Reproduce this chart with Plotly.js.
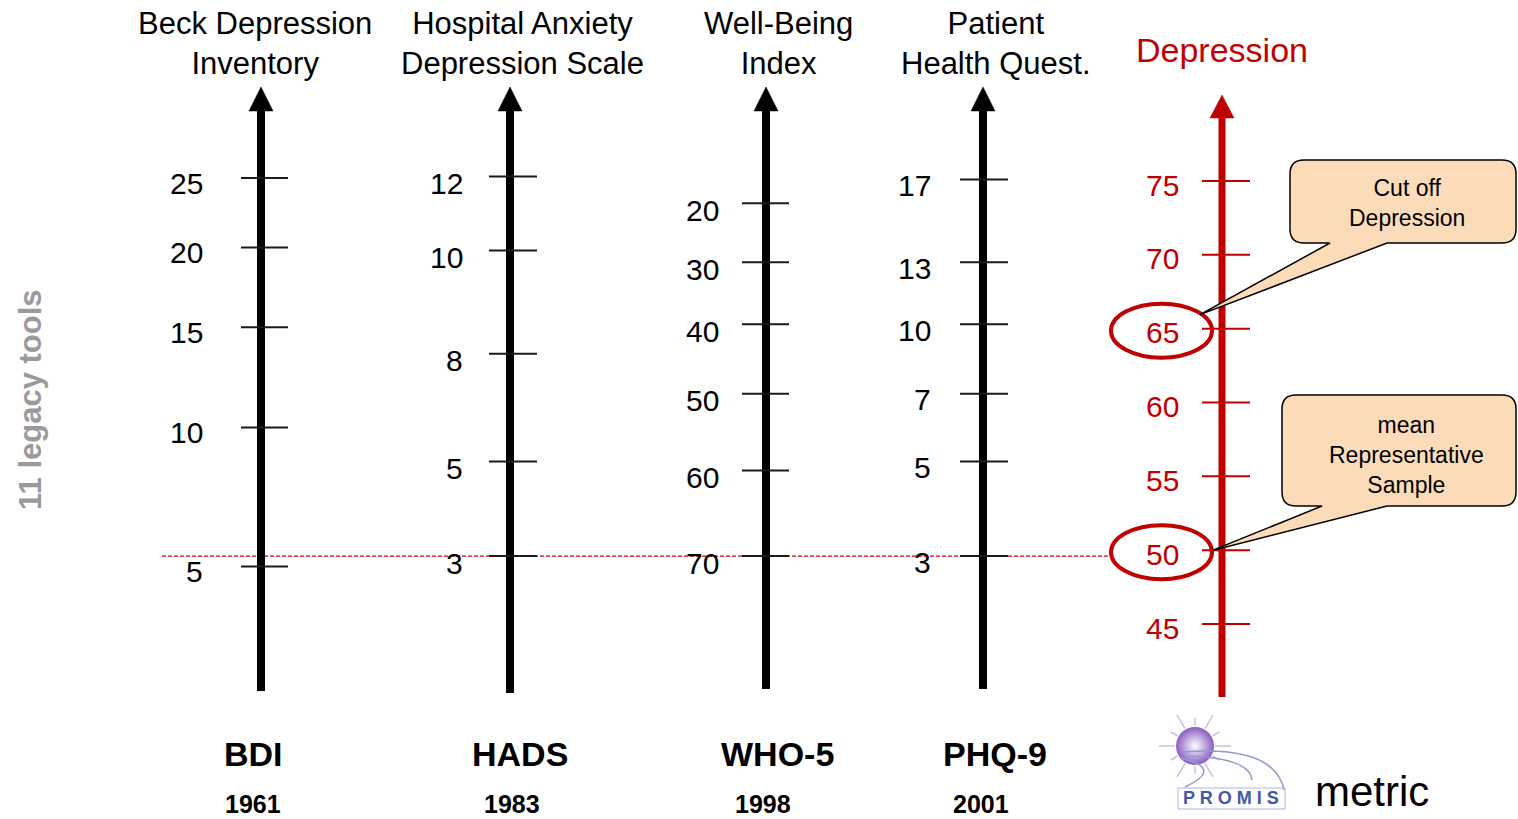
<!DOCTYPE html>
<html>
<head>
<meta charset="utf-8">
<script src="https://cdn.plot.ly/plotly-3.0.1.min.js"></script>
<style>html,body{margin:0;padding:0;background:#fff;}#chart{width:1518px;height:819px;}</style>
</head>
<body>
<div id="chart"></div>
<script>
// ---------------- DATA ----------------
// Legacy instruments, with their scores linked to the PROMIS Depression T-score metric
const instruments = ['BDI', 'HADS', 'WHO-5', 'PHQ-9'];
const years = ['1961', '1983', '1998', '2001'];
const titles = ['Beck Depression<br>Inventory', 'Hospital Anxiety<br>Depression Scale', 'Well-Being<br>Index', 'Patient<br>Health Quest.'];

const bdiLabels = ['25', '20', '15', '10', '5'];
const bdiT = [75.2, 70.5, 65.1, 58.3, 48.9];
const hadsLabels = ['12', '10', '8', '5', '3'];
const hadsT = [75.3, 70.3, 63.3, 56.0, 49.6];
const whoLabels = ['20', '30', '40', '50', '60', '70'];
const whoT = [73.5, 69.5, 65.3, 60.6, 55.4, 49.6];
const phqLabels = ['17', '13', '10', '7', '5', '3'];
const phqT = [75.1, 69.5, 65.3, 60.6, 56.0, 49.6];

const promisTicks = [75, 70, 65, 60, 55, 50, 45];
const promisTitle = 'Depression';
const cutoffT = 65;      // cut off depression
const meanT = 50;        // mean representative sample
const linkT = 49.6;      // dashed linking line
const cutoffText = 'Cut off<br>Depression';
const meanText = 'mean<br>Representative<br>Sample';
const sideLabel = '11 legacy tools';

const legacyLabels = [bdiLabels, hadsLabels, whoLabels, phqLabels];
const legacyT = [bdiT, hadsT, whoT, phqT];

// ---------------- LAYOUT CONSTANTS (pixels) ----------------
const W = 1518, H = 819;
const PX = (624 - 181) / 30;            // pixels per T-score unit
const TY = p => 75 - (p - 181) / PX;     // pixel row -> T-score axis units
const PY = t => 181 + (75 - t) * PX;     // T-score -> pixel row

const colX = [261, 510, 766, 983];
const colBottom = [691, 693, 689, 689];
const tickL = [241, 489, 742, 960];
const tickR = [288, 537, 789, 1008];
const labelRight = [205, 465, 721, 933];
const labelShift = [-5, -7, -7, -6];
const titleX = [255, 522, 778, 996];
const nameX = [253, 520, 777, 995];
const yearX = [253, 512, 763, 981];
const redX = 1222, RED = '#c00000';
const FONT = 'Liberation Sans, Arial, Helvetica, sans-serif';

const traces = [];
const annotations = [];
const shapes = [];

// dashed linking line
traces.push({x: [162, 1110], y: [linkT, linkT], mode: 'lines', line: {color: '#d80000', width: 1.2, dash: '4px,2px'}});

function addAxis(cx, bottom, base, tip, color, width) {
  traces.push({x: [cx, cx], y: [TY(bottom), TY(base)], mode: 'lines', line: {color: color, width: width}});
  traces.push({x: [cx - 12, cx, cx + 12, cx - 12], y: [TY(base), TY(tip), TY(base), TY(base)],
    mode: 'lines', fill: 'toself', fillcolor: color, line: {color: color, width: 0.5}});
}

instruments.forEach((name, i) => {
  addAxis(colX[i], colBottom[i], 111, 87, '#000', 8);
  const xs = [], ys = [];
  legacyT[i].forEach(t => { xs.push(tickL[i], tickR[i], null); ys.push(t, t, null); });
  traces.push({x: xs, y: ys, mode: 'lines', line: {color: '#1a1a1a', width: 2}});
  legacyLabels[i].forEach((lab, k) => {
    annotations.push({x: labelRight[i], y: legacyT[i][k], xref: 'x', yref: 'y', text: lab, showarrow: false,
      xanchor: 'right', yanchor: 'middle', yshift: labelShift[i], font: {family: FONT, size: 30, color: '#000'}});
  });
  annotations.push({x: titleX[i], y: TY(43), xref: 'x', yref: 'y', text: titles[i], showarrow: false,
    xanchor: 'center', yanchor: 'middle', font: {family: FONT, size: 31, color: '#000'}});
  annotations.push({x: nameX[i], y: TY(754), xref: 'x', yref: 'y', text: '<b>' + name + '</b>', showarrow: false,
    xanchor: 'center', yanchor: 'middle', font: {family: FONT, size: 34, color: '#000'}});
  annotations.push({x: yearX[i], y: TY(804), xref: 'x', yref: 'y', text: '<b>' + years[i] + '</b>', showarrow: false,
    xanchor: 'center', yanchor: 'middle', font: {family: FONT, size: 25, color: '#000'}});
});

// PROMIS red axis
addAxis(redX, 697, 118, 95, RED, 7);
{
  const xs = [], ys = [];
  promisTicks.forEach(t => { xs.push(1202, 1250, null); ys.push(t, t, null); });
  traces.push({x: xs, y: ys, mode: 'lines', line: {color: RED, width: 2}});
  promisTicks.forEach(t => {
    annotations.push({x: 1181, y: t, xref: 'x', yref: 'y', text: String(t), showarrow: false,
      xanchor: 'right', yanchor: 'middle', yshift: -4, font: {family: FONT, size: 30, color: RED}});
  });
}
annotations.push({x: redX, y: TY(50), xref: 'x', yref: 'y', text: promisTitle, showarrow: false,
  xanchor: 'center', yanchor: 'middle', font: {family: FONT, size: 34, color: RED}});

// ellipses around cut off and mean
[cutoffT, meanT].forEach(t => {
  const c = PY(t) + 2;
  shapes.push({type: 'circle', xref: 'x', yref: 'y', x0: 1111, x1: 1212, y0: TY(c - 27), y1: TY(c + 27),
    line: {color: RED, width: 4}, fillcolor: 'rgba(0,0,0,0)'});
});

// callouts
function callout(L, R, T, B, r, p1, p2, tx, ty) {
  const f = (x, y) => x + ',' + TY(y);
  return 'M' + f(L + r, T) + ' L' + f(R - r, T) + ' Q' + f(R, T) + ' ' + f(R, T + r) +
    ' L' + f(R, B - r) + ' Q' + f(R, B) + ' ' + f(R - r, B) + ' L' + f(p2, B) + ' L' + f(tx, ty) +
    ' L' + f(p1, B) + ' L' + f(L + r, B) + ' Q' + f(L, B) + ' ' + f(L, B - r) +
    ' L' + f(L, T + r) + ' Q' + f(L, T) + ' ' + f(L + r, T) + ' Z';
}
shapes.push({type: 'path', xref: 'x', yref: 'y', path: callout(1290, 1516, 160, 243, 14, 1330, 1387, 1200, PY(cutoffT) - 14),
  fillcolor: '#fcdcb8', line: {color: '#000', width: 1.5}});
shapes.push({type: 'path', xref: 'x', yref: 'y', path: callout(1282, 1516, 395, 506, 14, 1322, 1387, 1213, PY(meanT)),
  fillcolor: '#fcdcb8', line: {color: '#000', width: 1.5}});
annotations.push({x: 1407, y: TY(203), xref: 'x', yref: 'y', text: cutoffText, showarrow: false,
  xanchor: 'center', yanchor: 'middle', font: {family: FONT, size: 23, color: '#000'}});
annotations.push({x: 1406, y: TY(455), xref: 'x', yref: 'y', text: meanText, showarrow: false,
  xanchor: 'center', yanchor: 'middle', font: {family: FONT, size: 23, color: '#000'}});

// side label
annotations.push({x: 30, y: TY(400), xref: 'x', yref: 'y', text: '<b>' + sideLabel + '</b>', showarrow: false,
  textangle: -90, xanchor: 'center', yanchor: 'middle', font: {family: FONT, size: 31, color: '#9a9a9a'}});

// PROMIS logo (approximation)
{
  const cx = 1195, cy = 746;
  const xs = [], ys = [];
  for (let a = 0; a < 360; a += 30) {
    const rad = a * Math.PI / 180, r0 = 20, r1 = (a % 60 === 0) ? 36 : 28;
    xs.push(cx + r0 * Math.cos(rad), cx + r1 * Math.cos(rad), null);
    ys.push(TY(cy + r0 * Math.sin(rad)), TY(cy + r1 * Math.sin(rad)), null);
  }
  traces.push({x: xs, y: ys, mode: 'lines', line: {color: '#cdbfe6', width: 1.5}});
  traces.push({x: [cx], y: [TY(cy)], mode: 'markers',
    marker: {size: 38, color: '#8a5cc0', gradient: {type: 'radial', color: '#ffffff'}, line: {width: 0}}});
  const f = (x, y) => x + ',' + TY(y);
  shapes.push({type: 'path', xref: 'x', yref: 'y', path: 'M' + f(1183, 752) + ' Q' + f(1275, 745) + ' ' + f(1284, 790),
    line: {color: '#8c9bd4', width: 1.5}});
  shapes.push({type: 'path', xref: 'x', yref: 'y', path: 'M' + f(1188, 756) + ' Q' + f(1250, 758) + ' ' + f(1252, 780),
    line: {color: '#8c9bd4', width: 1.5}});
  shapes.push({type: 'path', xref: 'x', yref: 'y', path: 'M' + f(1180, 758) + ' Q' + f(1225, 768) + ' ' + f(1185, 787),
    line: {color: '#8c9bd4', width: 1.5}});
  shapes.push({type: 'rect', xref: 'x', yref: 'y', x0: 1178, x1: 1285, y0: TY(788), y1: TY(809),
    line: {color: '#a9b5e2', width: 1}, fillcolor: 'rgba(0,0,0,0)'});
  annotations.push({x: 1231, y: TY(798), xref: 'x', yref: 'y', text: '<b>P R O M I S</b>', showarrow: false,
    xanchor: 'center', yanchor: 'middle', font: {family: FONT, size: 18, color: '#4358a8'}});
}
annotations.push({x: 1372, y: TY(791), xref: 'x', yref: 'y', text: 'metric', showarrow: false,
  xanchor: 'center', yanchor: 'middle', font: {family: FONT, size: 42, color: '#000'}});

const layout = {
  width: W, height: H,
  margin: {l: 0, r: 0, t: 0, b: 0, pad: 0},
  paper_bgcolor: '#fff', plot_bgcolor: '#fff',
  showlegend: false, hovermode: false,
  xaxis: {range: [0, W], visible: false, fixedrange: true},
  yaxis: {range: [TY(H), TY(0)], visible: false, fixedrange: true},
  annotations: annotations,
  shapes: shapes
};
traces.forEach(t => { t.hoverinfo = 'skip'; t.showlegend = false; t.type = 'scatter'; });
Plotly.newPlot('chart', traces, layout, {staticPlot: true, displayModeBar: false});
</script>
</body>
</html>
